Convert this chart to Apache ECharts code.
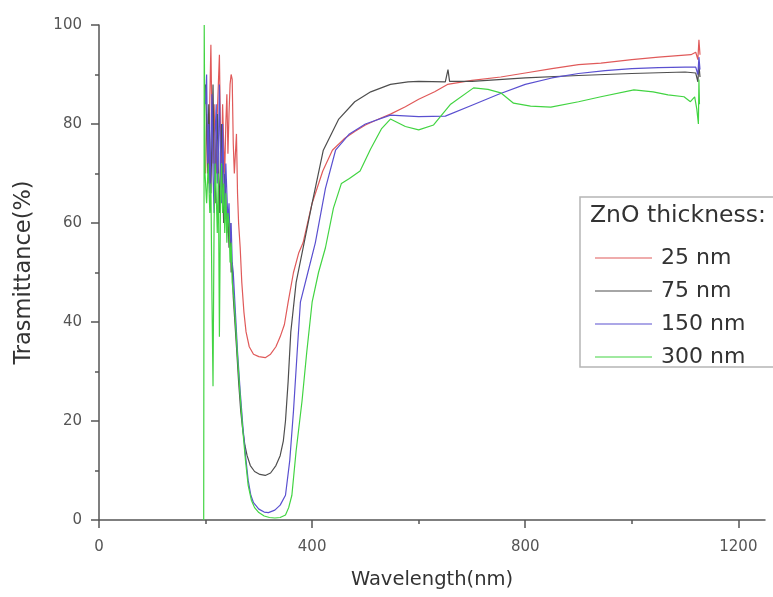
<!DOCTYPE html>
<html>
<head>
<meta charset="utf-8">
<script src="https://cdn.jsdelivr.net/npm/echarts@6/dist/echarts.min.js"></script>
<style>html,body{margin:0;padding:0;background:#fff}#c{width:773px;height:597px}</style>
</head>
<body>
<div id="c"></div>
<script>
const seriesNames = ['25 nm', '75 nm', '150 nm', '300 nm'];
const xTickLabels = [0, 400, 800, 1200];
const xMinorTicks = [200, 600, 1000];

const wl25 = [200,202,204,206,208,210,212,214,216,218,220,222,224,226,228,230,232,234,236,238,240,242,244,246,248,250,252,254,256,258,260,262,265,268,272,276,282,290,300,312,322,332,340,348,355,365,375,383,400,420,438,460,480,500,525,547,575,600,630,654,700,754,800,850,900,942,1000,1050,1111,1120,1124,1126,1128];
const t25  = [70,82,75,68,85,96,80,72,84,76,70,82,88,94,78,72,84,76,70,80,86,74,82,88,90,89,76,70,74,78,66,60,55,48,42,38,35,33.5,33,32.8,33.5,35,37,39.5,44,50,54,56,64,70.5,74.7,77,78.5,79.8,81,82,83.5,85,86.5,88,88.8,89.5,90.3,91.2,92,92.3,93,93.5,94,94.5,93,97,94];

const wl75 = [200,202,204,206,208,210,212,214,216,218,220,222,224,226,228,230,232,234,236,238,240,242,244,246,248,250,252,255,258,262,266,270,274,278,284,292,302,312,322,332,340,346,350,355,360,370,385,400,421,450,480,510,547,580,600,650,655,658,700,800,900,1000,1100,1120,1124,1126,1128];
const t75  = [88,80,70,84,76,66,78,88,72,64,75,82,70,62,74,80,68,60,70,65,58,62,55,60,50,52,45,40,35,28,22,18,15,13,11,9.8,9.2,9,9.5,11,13,16,20,28,38,48,56,64,74.7,81,84.5,86.5,88,88.5,88.6,88.5,91,88.6,88.6,89.3,89.8,90.2,90.5,90.3,88.5,92,89.5];

const wl150 = [200,202,204,206,208,210,212,214,216,218,220,222,224,226,228,230,232,234,236,238,240,242,244,246,248,250,252,256,260,265,270,275,280,285,290,300,310,318,330,340,350,358,365,372,378,392,406,425,444,470,500,547,600,650,700,750,800,850,900,950,1000,1050,1100,1120,1124,1126,1128];
const t150 = [84,90,72,80,66,76,86,70,62,78,84,68,74,88,72,64,80,70,62,72,66,60,64,56,60,52,50,42,34,26,19,13,8,5,3.5,2.2,1.6,1.5,2,3,5,12,22,34,44,50,56,67,74.7,78,80,81.8,81.5,81.6,83.8,86,88,89.3,90.2,90.8,91.2,91.4,91.5,91.5,90,93.5,91];

const wl300 = [196.5,197,197.5,199,202,205,208,210,212,214,216,218,220,222,224,226,228,230,232,234,236,238,240,242,244,246,248,250,253,256,260,265,270,275,280,286,292,300,310,320,330,340,350,356,362,370,381,390,400,412,425,440,455,470,490,510,530,547,575,600,628,660,703,730,754,778,810,848,900,942,1004,1040,1068,1098,1110,1118,1122,1125,1126,1127];
const t300 = [0,0,100,70,64,72,62,68,45,27,60,72,66,58,70,37,64,72,62,68,58,66,56,62,60,52,56,48,45,40,33,25,18,12,7,4,2.5,1.5,0.8,0.5,0.4,0.5,1,2.5,5,14,24,34,44,50,55,63,68,69,70.5,75,79,81,79.5,78.8,79.8,84,87.3,87,86.3,84.2,83.6,83.4,84.5,85.5,86.9,86.5,85.9,85.5,84.5,85.5,83,80,89,84];

const colors = ['#e05a5a', '#4e4e4e', '#5a50d0', '#42d442'];
const FONT = 'DejaVu Sans, Verdana, sans-serif';

function zip(xs, ys) { return xs.map((x, i) => [x, ys[i]]); }
const allData = [zip(wl25, t25), zip(wl75, t75), zip(wl150, t150), zip(wl300, t300)];

const chart = echarts.init(document.getElementById('c'), null, {renderer: 'canvas'});
const axisColor = '#555';
chart.setOption({
  animation: false,
  backgroundColor: '#fff',
  textStyle: {fontFamily: FONT},
  grid: {left: 99, right: 8, top: 25, bottom: 77},
  xAxis: [{
    type: 'value', min: 0, max: 1250,
    name: 'Wavelength(nm)', nameLocation: 'middle', nameGap: 50,
    nameTextStyle: {fontSize: 19.5, color: '#333', fontFamily: FONT},
    axisLine: {show: true, lineStyle: {color: axisColor, width: 1.5}},
    axisTick: {show: true, length: 8, customValues: xTickLabels, lineStyle: {color: axisColor, width: 1.5}},
    axisLabel: {customValues: xTickLabels, fontSize: 15, color: '#555', margin: 20, fontFamily: FONT,
                formatter: v => String(v)},
    splitLine: {show: false}
  }, {
    type: 'value', min: 0, max: 1250, position: 'bottom',
    axisLine: {show: false},
    axisTick: {show: true, length: 4, customValues: xMinorTicks, lineStyle: {color: axisColor, width: 1.5}},
    axisLabel: {show: false},
    splitLine: {show: false}
  }],
  yAxis: {
    type: 'value', min: 0, max: 100, interval: 20,
    name: 'Trasmittance(%)', nameLocation: 'middle', nameGap: 63, nameRotate: 90,
    nameTextStyle: {fontSize: 22.5, color: '#333', fontFamily: FONT, padding: [0, 0, 0, 0]},
    axisLine: {show: true, lineStyle: {color: axisColor, width: 1.5}},
    axisTick: {show: true, length: 8, lineStyle: {color: axisColor, width: 1.5}},
    minorTick: {show: true, splitNumber: 2, length: 4, lineStyle: {color: axisColor, width: 1.5}},
    axisLabel: {fontSize: 15, color: '#555', margin: 17, fontFamily: FONT},
    splitLine: {show: false}
  },
  legend: {
    orient: 'vertical', left: 590, top: 240,
    itemWidth: 57, itemHeight: 6, itemGap: 7,
    icon: 'path://M0,0 L58,0 L58,1 L0,1 Z',
    textStyle: {fontSize: 22, color: '#333', fontFamily: FONT, padding: [0, 0, 0, 4], lineHeight: 26},
    data: seriesNames
  },
  graphic: [
    {type: 'rect', shape: {x: 580, y: 197, width: 210, height: 170},
     style: {fill: 'none', stroke: '#b5b5b5', lineWidth: 1.5}, z: 100},
    {type: 'text', left: 590, top: 204,
     style: {text: 'ZnO thickness:', fontSize: 23.5, fill: '#333', fontFamily: FONT}, z: 100}
  ],
  series: seriesNames.map((n, i) => ({
    name: n, type: 'line', xAxisIndex: 0, data: allData[i],
    showSymbol: false, symbol: 'none',
    lineStyle: {color: colors[i], width: 1.2},
    itemStyle: {color: colors[i]},
    z: 2 + i
  }))
});
</script>
</body>
</html>
